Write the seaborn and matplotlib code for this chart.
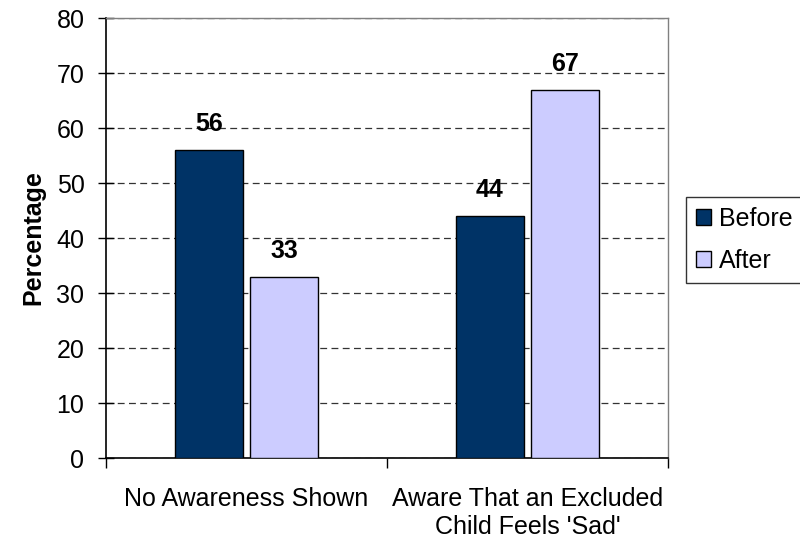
import matplotlib
matplotlib.use("Agg")
import matplotlib.pyplot as plt
import seaborn as sns
import pandas as pd

categories = ["No Awareness Shown", "Aware That an Excluded\nChild Feels 'Sad'"]
series = ["Before", "After"]
before = [56, 44]
after = [33, 67]
colors = ["#003366", "#CCCCFF"]

df = pd.DataFrame({
    "Category": categories * 2,
    "Series": ["Before"] * 2 + ["After"] * 2,
    "Value": before + after,
})

sns.set_style("white")
plt.rcParams["font.family"] = ["Liberation Sans", "DejaVu Sans"]
for k in ["text.color", "axes.labelcolor", "xtick.color", "ytick.color"]:
    plt.rcParams[k] = "black"

fig = plt.figure(figsize=(8, 5.47), dpi=100)
ax = fig.add_axes([0.1325, 0.1627, 0.7025, 0.8043])

sns.barplot(data=df, x="Category", y="Value", hue="Series", hue_order=series,
            palette=colors, saturation=1, width=0.534, gap=0.09,
            edgecolor="black", linewidth=1.0, ax=ax, legend=True, zorder=3)

ax.set_ylim(0, 80)
ax.set_xlim(-0.5, 1.5)
ax.set_yticks(range(0, 81, 10))
ax.yaxis.grid(True, linestyle=(0, (5.5, 3.5)), color="#333333", linewidth=0.9, zorder=0)
ax.set_axisbelow(True)

for c in ax.containers:
    ax.bar_label(c, fmt="%d", padding=10, fontsize=18, fontweight="bold")

ax.set_xlabel("")
ax.set_ylabel("Percentage", fontsize=18, fontweight="bold", labelpad=8)
ax.tick_params(axis="y", labelsize=18, direction="inout", length=11, width=1,
               left=True, pad=10)
ax.tick_params(axis="x", labelsize=18, bottom=False, length=0, pad=21)

# category boundary ticks
ax.set_xticks([0, 1])
ax.set_xticks([-0.5, 0.5, 1.5], minor=True)
ax.tick_params(axis="x", which="minor", direction="out", length=7, width=1, bottom=True)

for s in ["left", "bottom"]:
    ax.spines[s].set_color("black")
    ax.spines[s].set_linewidth(1.2)
for s in ["top", "right"]:
    ax.spines[s].set_color("#808080")
    ax.spines[s].set_linewidth(1.0)

leg = ax.legend(loc="upper left", bbox_to_anchor=(1.032, 0.593), fontsize=18,
                frameon=True, fancybox=False, edgecolor="black",
                handlelength=0.6, handleheight=0.6, handletextpad=0.32,
                borderpad=0.4, labelspacing=0.72, borderaxespad=0)
leg.get_frame().set_linewidth(1.0)
for h in leg.legend_handles:
    h.set_edgecolor("black")
    h.set_linewidth(1.0)

fig.savefig("out.png", dpi=100)
